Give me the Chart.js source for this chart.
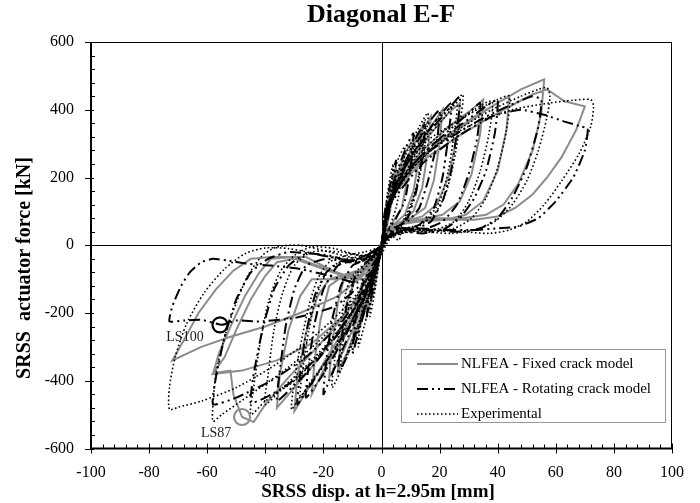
<!DOCTYPE html>
<html>
<head>
<meta charset="utf-8">
<title>Diagonal E-F</title>
<script src="https://cdn.jsdelivr.net/npm/chart.js@4.4.1/dist/chart.umd.min.js"></script>
<style>
  html, body { margin: 0; padding: 0; background: #fff; }
  canvas { display: block; }
</style>
</head>
<body>
<canvas id="hysteresis-chart" width="700" height="503"></canvas>
<script>
// axis ticks
const dispTicks = [-100, -80, -60, -40, -20, 0, 20, 40, 60, 80, 100];
const forceTicks = [-600, -400, -200, 0, 200, 400, 600];

const seriesNames = ['NLFEA - Fixed crack model', 'NLFEA - Rotating crack model', 'Experimental'];

// [disp mm, force kN] along the loading history
const fixedCurve = [
  [0,0],[1,70],[3,160],[5,230],[4,150],[2,60],[0,0],[-1,-60],[-3,-150],[-5,-200],[-4,-120],[-2,-50],[0,0],
  [2,110],[5,200],[8,270],[10,300],[9,200],[7,110],[4,70],[1,30],[-1,-40],[-4,-140],[-7,-230],[-10,-290],[-9,-200],[-7,-120],[-4,-70],[-1,-30],[0,0],
  [2,100],[7,220],[11,300],[14,350],[13,260],[11,160],[8,90],[4,60],[0,0],[-3,-110],[-8,-230],[-12,-320],[-15,-370],[-14,-280],[-12,-170],[-9,-100],[-5,-70],[0,0],
  [2,120],[7,230],[12,310],[17,380],[16,280],[14,170],[11,100],[7,70],[3,50],[0,0],[-3,-100],[-8,-210],[-13,-310],[-18,-390],[-17,-290],[-15,-170],[-13,-100],[-9,-80],[-4,-60],[0,0],
  [3,150],[10,260],[17,350],[21,400],[20,300],[18,190],[15,110],[10,80],[4,60],[0,0],[-4,-120],[-12,-260],[-20,-370],[-24,-440],[-23,-340],[-21,-220],[-18,-120],[-13,-90],[-6,-75],[0,0],
  [3,140],[9,240],[16,320],[23,390],[27,420],[26,320],[23,200],[19,120],[14,85],[8,70],[3,50],[0,0],[-3,-90],[-10,-210],[-18,-320],[-25,-420],[-30,-490],[-29,-390],[-26,-260],[-22,-150],[-18,-100],[-12,-85],[-6,-70],[0,0],
  [3,150],[13,270],[23,350],[31,400],[35,430],[34,330],[31,210],[27,130],[21,90],[13,75],[5,65],[0,0],[-4,-110],[-14,-250],[-24,-360],[-32,-440],[-36,-480],[-35,-380],[-32,-250],[-28,-150],[-24,-100],[-16,-100],[-7,-90],[0,0],
  [3,140],[12,250],[22,320],[32,380],[40,420],[44,440],[43,340],[40,220],[35,130],[29,90],[22,75],[13,70],[5,60],[0,10],[-4,-90],[-12,-200],[-22,-300],[-32,-390],[-40,-470],[-44,-522],[-48,-507],[-51,-440],[-52,-370],[-58,-378],[-54,-330],[-50,-250],[-45,-160],[-40,-90],[-36,-50],[-30,-40],[-20,-70],[-10,-100],[0,0],
  [3,150],[14,260],[26,340],[38,410],[48,460],[56,490],[55,390],[52,280],[47,180],[42,120],[36,90],[28,80],[18,80],[8,70],[1,20],[-3,-100],[-12,-200],[-24,-290],[-36,-340],[-48,-370],[-58,-380],[-56,-320],[-52,-240],[-47,-150],[-42,-80],[-38,-40],[-30,-35],[-22,-60],[-12,-90],[-4,-100],[0,-20],
  [3,140],[14,250],[28,330],[42,400],[52,445],[57,460],[63,425],[70,410],[67,340],[62,260],[57,200],[52,150],[46,110],[40,85],[32,75],[22,75],[12,75],[4,60],[0,0],[-5,-80],[-15,-150],[-28,-200],[-40,-240],[-52,-270],[-62,-300],[-72,-340],[-68,-280],[-63,-200],[-57,-130],[-51,-75],[-45,-40],[-38,-35],[-26,-35],[-18,-70],[-10,-100],[-3,-100],[0,0]
];

const rotatingCurve = [
  [0,0],[1,90],[3,180],[5,250],[4,160],[2,70],[0,0],[-2,-90],[-4,-170],[-5,-210],[-4,-130],[-2,-60],[0,0],
  [2,120],[5,210],[9,300],[11,330],[10,230],[8,130],[5,80],[2,40],[0,0],[-2,-80],[-5,-170],[-8,-260],[-10,-320],[-9,-230],[-7,-130],[-4,-70],[-1,-30],[0,0],
  [2,100],[7,220],[12,320],[15,360],[14,260],[12,160],[9,80],[5,50],[1,10],[-3,-110],[-8,-240],[-12,-330],[-15,-380],[-14,-290],[-12,-180],[-9,-90],[-5,-50],[0,0],
  [2,110],[6,210],[12,300],[17,370],[20,400],[19,300],[16,190],[13,110],[9,70],[4,50],[1,20],[-2,-70],[-7,-180],[-13,-300],[-18,-400],[-20,-440],[-19,-340],[-17,-220],[-14,-120],[-10,-60],[-5,-40],[0,0],
  [3,130],[10,260],[18,360],[24,420],[23,320],[21,200],[18,110],[13,60],[7,45],[1,10],[-4,-120],[-12,-260],[-20,-380],[-26,-450],[-25,-350],[-23,-230],[-20,-130],[-15,-60],[-8,-40],[0,0],
  [2,110],[8,230],[16,330],[22,390],[27,440],[26,340],[24,220],[21,130],[17,70],[12,50],[6,50],[1,20],[-3,-90],[-10,-220],[-18,-330],[-25,-420],[-29,-470],[-28,-380],[-26,-260],[-23,-150],[-19,-80],[-14,-50],[-8,-40],[0,0],
  [3,130],[12,250],[22,330],[30,390],[34,420],[33,320],[30,210],[26,120],[21,70],[14,45],[6,45],[1,10],[-4,-110],[-14,-250],[-24,-360],[-32,-430],[-36,-460],[-35,-370],[-33,-240],[-30,-130],[-26,-60],[-19,-40],[-10,-50],[0,0],
  [2,110],[9,220],[18,300],[28,360],[36,410],[40,430],[39,330],[36,220],[32,140],[27,80],[21,45],[14,35],[7,40],[1,20],[-3,-90],[-12,-220],[-22,-330],[-32,-410],[-40,-450],[-45,-465],[-44,-380],[-41,-250],[-37,-130],[-32,-60],[-26,-25],[-18,-30],[-9,-50],[0,-10],
  [3,130],[12,250],[24,320],[36,380],[46,420],[52,440],[55,430],[54,350],[50,230],[45,140],[40,80],[34,50],[26,40],[16,45],[6,50],[1,20],[-4,-100],[-14,-230],[-26,-330],[-38,-400],[-50,-450],[-58,-470],[-57,-390],[-54,-270],[-50,-160],[-45,-80],[-39,-40],[-32,-20],[-24,-25],[-14,-40],[-5,-50],[0,0],
  [3,120],[14,240],[26,320],[38,380],[48,400],[56,385],[63,365],[69,350],[71,345],[70,280],[66,200],[60,130],[54,80],[47,55],[40,50],[32,45],[22,45],[10,50],[2,20],[-4,-90],[-16,-180],[-30,-215],[-42,-225],[-50,-222],[-55,-235],[-62,-220],[-68,-222],[-73,-225],[-72,-180],[-69,-120],[-66,-80],[-62,-50],[-58,-40],[-53,-45],[-46,-55],[-38,-60],[-28,-70],[-18,-90],[-8,-110],[0,-50]
];

const experimentalCurve = [
  [0,0],[1,80],[2,150],[3,200],[4,240],[3.5,170],[2.5,100],[1,40],[0,0],[-1,-60],[-2,-120],[-3,-170],[-4,-210],[-3.5,-150],[-2.5,-90],[-1,-40],[0,0],
  [1,90],[3,180],[6,260],[8,290],[7,200],[5,110],[3,60],[1,20],[-1,-50],[-3,-140],[-6,-240],[-8,-300],[-7,-210],[-5,-120],[-3,-70],[-1,-30],[0,10],
  [2,110],[5,200],[9,280],[13,350],[16,390],[15,300],[13,200],[10,120],[7,60],[6,15],[3,30],[0,0],[-2,-80],[-5,-170],[-9,-270],[-13,-350],[-17,-420],[-16,-330],[-14,-230],[-12,-130],[-9,-80],[-5,-50],[-2,-30],[0,0],
  [2,90],[6,190],[10,270],[14,340],[15,370],[14,280],[12,170],[9,90],[5,40],[2,20],[0,0],[-3,-100],[-7,-210],[-11,-300],[-14,-360],[-13,-270],[-11,-170],[-9,-100],[-5,-60],[-1,-20],[0,0],
  [2,100],[6,200],[12,290],[18,360],[24,410],[28,445],[27,360],[25,250],[22,150],[18,90],[13,60],[8,50],[4,40],[1,10],[-2,-60],[-7,-170],[-14,-280],[-22,-380],[-29,-460],[-31,-485],[-30,-400],[-28,-300],[-25,-180],[-22,-100],[-18,-50],[-12,-30],[-6,-20],[-2,-10],[0,0],
  [2,90],[8,210],[15,310],[22,380],[26,420],[25,330],[23,220],[20,130],[15,70],[9,40],[4,30],[1,0],[-3,-90],[-10,-220],[-18,-330],[-25,-410],[-28,-450],[-27,-360],[-25,-250],[-22,-140],[-18,-70],[-12,-40],[-5,-30],[0,0],
  [2,110],[8,230],[16,310],[25,360],[33,400],[40,430],[44,440],[43,340],[40,230],[36,140],[31,80],[25,50],[18,40],[10,40],[4,30],[1,0],[-3,-80],[-10,-200],[-20,-310],[-30,-400],[-40,-460],[-45,-500],[-44,-420],[-42,-300],[-39,-170],[-35,-80],[-30,-30],[-24,-5],[-16,-10],[-8,-30],[-2,-30],[0,0],
  [3,120],[12,260],[22,340],[32,400],[38,425],[37,330],[34,220],[30,130],[25,70],[18,45],[10,40],[3,20],[-3,-90],[-12,-220],[-24,-340],[-34,-420],[-40,-470],[-39,-380],[-37,-250],[-34,-140],[-30,-60],[-24,-20],[-14,-20],[-5,-30],[0,0],
  [2,100],[8,200],[18,290],[28,350],[38,400],[48,440],[54,460],[57,465],[58,440],[57,380],[54,280],[50,190],[45,120],[39,70],[32,45],[24,35],[14,40],[6,40],[1,10],[-3,-70],[-10,-170],[-20,-270],[-32,-360],[-45,-440],[-55,-500],[-58,-520],[-58,-470],[-57,-380],[-54,-270],[-50,-170],[-46,-90],[-41,-30],[-36,-5],[-28,0],[-18,-20],[-8,-40],[-2,-40],[0,0],
  [3,120],[10,220],[20,300],[32,360],[45,400],[58,420],[66,428],[72,430],[73,410],[72,350],[68,270],[62,190],[56,120],[50,70],[44,45],[37,35],[28,40],[18,45],[8,45],[2,20],[-2,-60],[-10,-160],[-22,-260],[-36,-350],[-50,-420],[-62,-460],[-70,-478],[-73,-485],[-73,-420],[-71,-330],[-67,-230],[-61,-140],[-54,-70],[-47,-25],[-40,-8],[-32,-10],[-20,-30],[-8,-50],[0,-20]
];

// load steps picked out on the curves
const stepNames = ['LS100', 'LS87'];
const stepDisp = [-55.6, -48];
const stepForce = [-235, -507];

const SERIF = '"Liberation Serif", "Times New Roman", serif';
const GREY = '#8c8c8c';

const toPoints = curve => curve.map(([x, y]) => ({ x, y }));

const plotDecor = {
  id: 'plotDecor',
  beforeDatasetsDraw(chart) {
    const { ctx, chartArea: a, scales: { x, y } } = chart;
    const x0 = Math.round(x.getPixelForValue(0)) + 0.5;
    const y0 = Math.round(y.getPixelForValue(0)) + 0.5;
    ctx.save();
    ctx.strokeStyle = '#000';
    ctx.lineWidth = 1;
    ctx.beginPath();
    ctx.moveTo(x0, a.top); ctx.lineTo(x0, a.bottom);
    ctx.moveTo(a.left, y0); ctx.lineTo(a.right, y0);
    ctx.stroke();
    ctx.restore();
  },
  afterDraw(chart) {
    const { ctx, chartArea: a, scales: { x, y } } = chart;
    ctx.save();

    // box
    ctx.strokeStyle = '#000';
    ctx.lineWidth = 1;
    ctx.beginPath();
    ctx.moveTo(a.left, a.top + 0.5); ctx.lineTo(a.right, a.top + 0.5);
    ctx.moveTo(a.right - 0.5, a.top); ctx.lineTo(a.right - 0.5, a.bottom);
    ctx.stroke();
    ctx.lineWidth = 2;
    ctx.beginPath();
    ctx.moveTo(a.left, a.top); ctx.lineTo(a.left, a.bottom);
    ctx.lineTo(a.right, a.bottom);
    ctx.stroke();

    // tick marks, minor every 4 mm / 40 kN
    ctx.lineWidth = 1;
    ctx.beginPath();
    for (let v = -100; v <= 100; v += 4) {
      const px = Math.round(x.getPixelForValue(v)) + 0.5;
      const major = v % 20 === 0;
      ctx.moveTo(px, a.bottom - (major ? 5 : 4));
      ctx.lineTo(px, a.bottom + (major ? 5 : 0));
    }
    for (let v = -600; v <= 600; v += 40) {
      const py = Math.round(y.getPixelForValue(v)) + 0.5;
      const major = v % 200 === 0;
      ctx.moveTo(a.left - (major ? 6 : 0), py);
      ctx.lineTo(a.left + (major ? 3 : 4), py);
    }
    ctx.stroke();

    // titles
    ctx.fillStyle = '#000';
    ctx.textAlign = 'center';
    ctx.textBaseline = 'middle';
    ctx.font = 'bold 26px ' + SERIF;
    ctx.fillText('Diagonal E-F', 381, 15);
    ctx.font = 'bold 19px ' + SERIF;
    ctx.fillText('SRSS disp. at h=2.95m [mm]', 378, 492);
    ctx.save();
    ctx.translate(25, 268);
    ctx.rotate(-Math.PI / 2);
    ctx.font = 'bold 20px ' + SERIF;
    ctx.fillText('SRSS  actuator force [kN]', 0, 0);
    ctx.restore();

    // load step labels
    ctx.font = '14px ' + SERIF;
    ctx.fillStyle = '#222';
    const offsets = [[-35, 12], [-26, 16]];
    stepNames.forEach((name, i) => {
      const px = x.getPixelForValue(stepDisp[i]);
      const py = y.getPixelForValue(stepForce[i]);
      ctx.fillText(name, px + offsets[i][0], py + offsets[i][1]);
    });

    // legend
    const box = { left: 401.5, top: 349.5, width: 264, height: 73 };
    ctx.fillStyle = '#fff';
    ctx.fillRect(box.left, box.top, box.width, box.height);
    ctx.strokeStyle = '#999';
    ctx.lineWidth = 1;
    ctx.strokeRect(box.left, box.top, box.width, box.height);
    ctx.font = '15px ' + SERIF;
    ctx.textAlign = 'left';
    ctx.fillStyle = '#000';
    seriesNames.forEach((name, i) => {
      const ds = chart.data.datasets.find(d => d.label === name);
      const ry = 364 + i * 25;
      ctx.save();
      ctx.strokeStyle = ds.borderColor;
      ctx.lineWidth = ds.borderWidth;
      ctx.setLineDash(ds.borderDash || []);
      ctx.beginPath();
      ctx.moveTo(417, ry); ctx.lineTo(458, ry);
      ctx.stroke();
      ctx.restore();
      ctx.fillText(name, 461, ry);
    });

    ctx.restore();
  }
};

const chart = new Chart(document.getElementById('hysteresis-chart'), {
  type: 'scatter',
  data: {
    datasets: [
      {
        label: stepNames[0],
        data: [{ x: stepDisp[0], y: stepForce[0] }],
        showLine: false,
        pointRadius: 7.5,
        pointBorderWidth: 2.2,
        pointBorderColor: '#000',
        pointBackgroundColor: 'rgba(0,0,0,0)',
        order: 0
      },
      {
        label: stepNames[1],
        data: [{ x: stepDisp[1], y: stepForce[1] }],
        showLine: false,
        pointRadius: 8,
        pointBorderWidth: 2.2,
        pointBorderColor: GREY,
        pointBackgroundColor: 'rgba(0,0,0,0)',
        order: 0
      },
      {
        label: seriesNames[2],
        data: toPoints(experimentalCurve),
        showLine: true,
        borderColor: '#000',
        borderWidth: 1.6,
        borderDash: [1.6, 2.4],
        pointRadius: 0,
        tension: 0.25,
        order: 1
      },
      {
        label: seriesNames[1],
        data: toPoints(rotatingCurve),
        showLine: true,
        borderColor: '#000',
        borderWidth: 2,
        borderDash: [11, 4, 2, 4, 2, 4],
        pointRadius: 0,
        tension: 0.15,
        order: 2
      },
      {
        label: seriesNames[0],
        data: toPoints(fixedCurve),
        showLine: true,
        borderColor: GREY,
        borderWidth: 2,
        pointRadius: 0,
        tension: 0,
        order: 3
      }
    ]
  },
  options: {
    responsive: false,
    animation: false,
    devicePixelRatio: 1,
    layout: { padding: { top: 42, right: 28, left: 0, bottom: 0 } },
    plugins: {
      legend: { display: false },
      title: { display: false },
      tooltip: { enabled: false }
    },
    scales: {
      x: {
        type: 'linear',
        min: -100,
        max: 100,
        afterBuildTicks: scale => { scale.ticks = dispTicks.map(value => ({ value })); },
        ticks: { font: { family: SERIF, size: 16 }, color: '#000', padding: 15, maxRotation: 0 },
        grid: { display: false, drawTicks: false },
        border: { display: false },
        afterFit: scale => { scale.height = 54.5; }
      },
      y: {
        type: 'linear',
        min: -600,
        max: 600,
        afterBuildTicks: scale => { scale.ticks = forceTicks.map(value => ({ value })); },
        ticks: { font: { family: SERIF, size: 16 }, color: '#000', padding: 17 },
        grid: { display: false, drawTicks: false },
        border: { display: false },
        afterFit: scale => { scale.width = 91; }
      }
    }
  },
  plugins: [plotDecor]
});
</script>
</body>
</html>
